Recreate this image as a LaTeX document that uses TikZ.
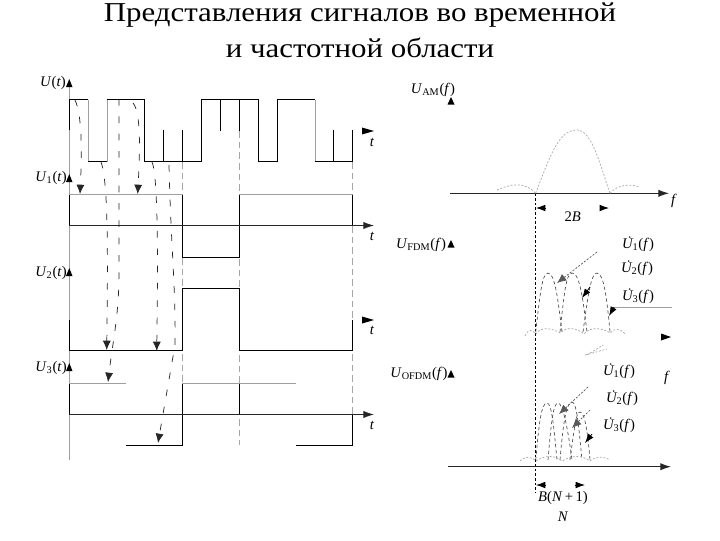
\documentclass[tikz,border=0pt]{standalone}
\usepackage{fontspec}
\setmainfont{Liberation Serif}
\newfontfamily\titlefont[FakeStretch=1.13]{Liberation Serif}
\usetikzlibrary{arrows.meta}
\newcommand{\Sg}[3]{\textit{#1}\textsubscript{#2}(\textit{#3})}
\newcommand{\Ud}{\textit{U}\kern-0.42em\raisebox{0.17em}{˙}\kern0.087em}
\tikzset{
  sig/.style={black,line width=0.7pt},
  faint/.style={gray!75,line width=0.7pt},
  guide/.style={gray!70,line width=0.6pt,dash pattern=on 5pt off 3pt},
  flow/.style={black!85,line width=0.55pt,dash pattern=on 5pt off 8pt,-{Latex[length=7pt,width=6pt]}},
  dots/.style={gray!65,line width=0.55pt,dash pattern=on 1.5pt off 1.2pt},
  lobe/.style={black!70,line width=0.5pt,dash pattern=on 2.5pt off 2pt},
  axisline/.style={black!85,line width=0.7pt,-{Latex[length=8pt,width=5.5pt]}},
  tip/.style={fill=black,draw=none},
  lbl/.style={font=\fontsize{11}{13}\selectfont,inner sep=0pt},
  dim/.style={black,line width=0.6pt,-{Latex[length=7pt,width=5pt]}},
  ttl/.style={font=\titlefont\fontsize{20.5}{25}\selectfont,inner sep=0pt}
}
\begin{document}
\begin{tikzpicture}[x=0.75pt,y=-0.75pt]
\useasboundingbox (0,0) rectangle (720,540);
% title
\node[ttl] (title1) at (360,15) {Представления сигналов во временной};
\node[ttl] (title2) at (360,48) {и частотной области};
% left axis
\draw[faint] (69.3,460) -- (69.3,85);
\fill[tip] (69.3,79) -- (72.5,87) -- (66,87) -- cycle;
\fill[tip] (69.3,174) -- (72.5,182) -- (66,182) -- cycle;
\fill[tip] (69.3,268) -- (72.5,276) -- (66,276) -- cycle;
\fill[tip] (69.3,363) -- (72.5,371) -- (66,371) -- cycle;
% dashed guides
\draw[guide] (182.3,162) -- (182.3,445);
\draw[guide] (239.3,99) -- (239.3,445);
\draw[guide] (352.3,162) -- (352.3,445);
% U(t)
\draw[sig] (69.3,130) -- (69.3,99.5) -- (88.3,99.5);
\draw[faint] (88.3,99.5) -- (88.3,161.5);
\draw[sig] (88.3,161.5) -- (107.3,161.5);
\draw[faint] (107.3,161.5) -- (107.3,99.5);
\draw[sig] (107.3,99.5) -- (144.3,99.5) -- (144.3,161.5) -- (201.3,161.5) -- (201.3,99.5) -- (258.7,99.5) -- (258.7,161.5) -- (277.7,161.5) -- (277.7,99.5) -- (315,99.5);
\draw[sig] (163.3,161.5) -- (163.3,130);
\draw[sig] (182.3,161.5) -- (182.3,130);
\draw[sig] (220.3,99.5) -- (220.3,131);
\draw[sig] (239.3,99.5) -- (239.3,131);
\draw[faint] (315,99.5) -- (315,161.5);
\draw[sig] (315,161.5) -- (352.3,161.5) -- (352.3,130);
\draw[sig] (333.3,161.5) -- (333.3,130);
\fill[tip] (374,131) -- (362,127.5) -- (362,134.5) -- cycle;
% U1
\draw[sig] (69.3,225.5) -- (69.3,194.5);
\draw[faint] (69.3,194.5) -- (182.3,194.5);
\draw[sig] (182.3,194.5) -- (182.3,257.5) -- (239.3,257.5) -- (239.3,194.5);
\draw[faint] (239.3,194.5) -- (352.3,194.5);
\draw[sig] (352.3,194.5) -- (352.3,225.5);
\draw[axisline] (69.3,225.5) -- (374,225.5);
% U2
\draw[sig] (69.3,320) -- (69.3,350.5) -- (182.3,350.5) -- (182.3,288.5) -- (239.3,288.5) -- (239.3,350.5) -- (352.3,350.5) -- (352.3,320);
\fill[tip] (374,320) -- (362,316.5) -- (362,323.5) -- cycle;
% U3
\draw[sig] (69.3,383.5) -- (69.3,414.5);
\draw[faint] (69.3,383.5) -- (126,383.5);
\draw[faint] (182.3,383.5) -- (296,383.5);
\draw[sig] (126,445.5) -- (182.3,445.5) -- (182.3,383.5);
\draw[sig] (239.3,383.5) -- (239.3,414.5);
\draw[sig] (296,445.5) -- (352.3,445.5) -- (352.3,414.5);
\draw[axisline] (69.3,414.5) -- (374,414.5);
% flow arrows
\draw[flow] (75,100) .. controls (82,115) and (82,150) .. (80,194);
\draw[flow] (101,162) .. controls (108,180) and (108,250) .. (106.7,350);
\draw[flow] (119,99) -- (119,280) .. controls (118,320) and (113,340) .. (108,382);
\draw[flow] (133,103) .. controls (141,112) and (140,150) .. (137.7,194);
\draw[flow] (152,162) .. controls (158,175) and (158,260) .. (156.7,351);
\draw[flow] (169,165) .. controls (171,250) and (176,290) .. (175,345) -- (158,443);
% left labels
\node[lbl] (lu) at (53,83) {\textit{U}(\textit{t})};
\node[lbl] (lu1) at (51,178) {\Sg{U}{1}{t}};
\node[lbl] (lu2) at (51,273) {\Sg{U}{2}{t}};
\node[lbl] (lu3) at (51,368) {\Sg{U}{3}{t}};
\node[lbl] (t0) at (372,142) {\textit{t}};
\node[lbl] (t1) at (372,236) {\textit{t}};
\node[lbl] (t2) at (372,330) {\textit{t}};
\node[lbl] (t3) at (372,425) {\textit{t}};
% right: common guide
\draw[black,line width=0.6pt,dash pattern=on 2pt off 1.5pt] (535.7,193.3) -- (535.7,493);
% AM
\draw[axisline] (450,193.3) -- (669,193.3);
\draw[dots] (535.7,193.3) .. controls (552,150) and (560,130) .. (577,130) .. controls (592,130) and (600,165) .. (610,193.3);
\draw[dots] (497,190) .. controls (510,184) and (525,181) .. (535.7,193.3);
\draw[dots] (610,193.3) .. controls (618,184) and (630,184) .. (640,187);
\fill[tip] (451,97) -- (454.5,104.5) -- (447.5,104.5) -- cycle;
\node[lbl] (lam) at (433,90) {\Sg{U}{AM}{f}};
\node[lbl] (fam) at (674,201) {\textit{f}};
\coordinate (a1) at (545,208); \coordinate (a1t) at (536,208);
\coordinate (a2) at (600,208); \coordinate (a2t) at (609,208);
\draw[dim] (a1) -- (a1t);
\draw[dim] (a2) -- (a2t);
\node[lbl] (twob) at (572.7,217) {2\textit{B}};
% FDM
\fill[tip] (451,240) -- (454.5,247.5) -- (447.5,247.5) -- cycle;
\node[lbl] (lfdm) at (421,245) {\Sg{U}{FDM}{f}};
\draw[lobe] (535.7,332) .. controls (540,295) and (542,273) .. (548,273) .. controls (555,273) and (558,300) .. (562,332);
\draw[lobe] (560,332) .. controls (564,295) and (566,273) .. (572,273) .. controls (580,273) and (583,300) .. (587,332);
\draw[lobe] (583,332) .. controls (588,295) and (591,273) .. (597,273) .. controls (604,273) and (607,300) .. (610,332);
\draw[dots] (525,336) .. controls (529,328) and (532,330) .. (536,334) .. controls (541,326) and (552,328) .. (560,333) .. controls (566,326) and (577,328) .. (584,334) .. controls (590,326) and (603,328) .. (610,333) .. controls (614,328) and (620,328) .. (625,334);
\draw[dots] (587,355) -- (603,345);
\coordinate (l1) at (597,252); \coordinate (l1t) at (557,283);
\draw[dots,-{Latex[length=7pt,width=6pt]},black!65] (l1) -- (l1t);
\coordinate (l2) at (590,287); \coordinate (l2t) at (582,298);
\draw[dim] (l2) -- (l2t);
\coordinate (l3) at (672,307); \coordinate (l3b) at (614,307); \coordinate (l3t) at (609,316);
\draw[faint] (l3) -- (l3b);
\draw[dim] (l3b) -- (l3t);
\fill[tip] (671,337) -- (661,333.5) -- (661,340.5) -- cycle;
\node[lbl] (d1) at (638,244) {\Sg{\Ud}{1}{f}};
\node[lbl] (d2) at (637,268) {\Sg{\Ud}{2}{f}};
\node[lbl] (d3) at (638,296) {\Sg{\Ud}{3}{f}};
% OFDM
\fill[tip] (451,370) -- (454.5,377.5) -- (447.5,377.5) -- cycle;
\node[lbl] (lofdm) at (419,374) {\Sg{U}{OFDM}{f}};
\draw[axisline] (448,466.7) -- (671,466.7);
\draw[lobe] (535.7,460) .. controls (539,425) and (541,403) .. (547,403) .. controls (552,403) and (554,430) .. (557,460);
\draw[lobe] (548,460) .. controls (551,425) and (553,403) .. (558,403) .. controls (563,403) and (568,430) .. (572,460);
\draw[lobe] (560,460) .. controls (563,425) and (566,402) .. (572,402) .. controls (577,402) and (579,430) .. (582,460);
\draw[lobe] (570,460) .. controls (574,430) and (576,412) .. (580,412) .. controls (585,412) and (588,435) .. (590,460);
\draw[dots] (520,461) .. controls (526,456) and (530,456) .. (536,461) .. controls (545,455) and (555,455) .. (562,461) .. controls (572,455) and (582,455) .. (590,461) .. controls (596,456) and (604,456) .. (610,460);
\draw[dots] (585,355) -- (607,349);
\coordinate (m1) at (588,387); \coordinate (m1t) at (559,414);
\draw[dots,-{Latex[length=7pt,width=6pt]},black!65] (m1) -- (m1t);
\coordinate (m2) at (590,410); \coordinate (m2t) at (572,428);
\draw[dots,-{Latex[length=7pt,width=6pt]},black!65] (m2) -- (m2t);
\coordinate (m3) at (592,434); \coordinate (m3t) at (585,443);
\draw[dim] (m3) -- (m3t);
\node[lbl] (o1) at (619,371) {\Sg{\Ud}{1}{f}};
\node[lbl] (o2) at (622,398) {\Sg{\Ud}{2}{f}};
\node[lbl] (o3) at (619,425) {\Sg{\Ud}{3}{f}};
\node[lbl] (fo) at (667,378) {\textit{f}};
\coordinate (b1) at (546,485); \coordinate (b1t) at (536,485);
\coordinate (b2) at (575,485); \coordinate (b2t) at (585,485);
\draw[dim] (b1) -- (b1t);
\draw[dim] (b2) -- (b2t);
\node[lbl] (bn) at (563,498) {\textit{B}(\textit{N}\,+\,1)};
\node[lbl] (nn) at (563,517) {\textit{N}};
\end{tikzpicture}
\end{document}
